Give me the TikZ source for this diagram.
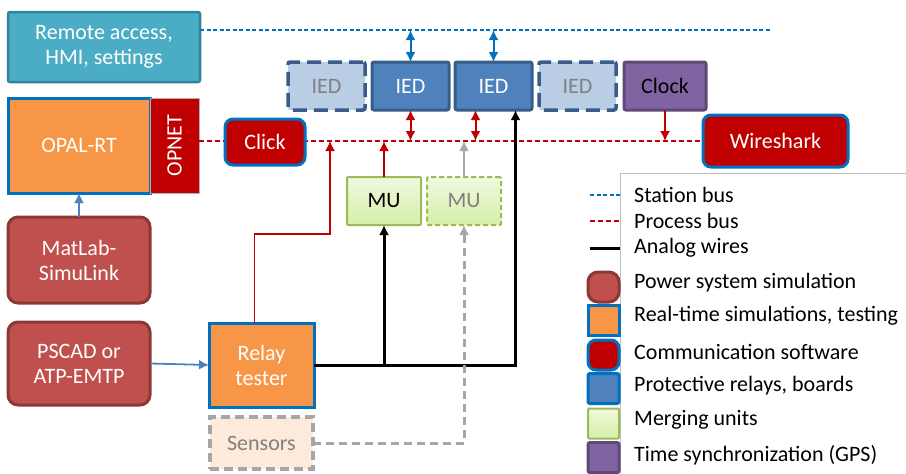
\documentclass[tikz,border=0pt]{standalone}
\usepackage{fontspec}
\setmainfont{Carlito}
\usetikzlibrary{positioning,arrows.meta}
\definecolor{simred}{HTML}{C0504D}
\definecolor{simdark}{HTML}{8C3836}
\definecolor{rtorange}{HTML}{F79646}
\definecolor{linkblue}{HTML}{0070C0}
\definecolor{commred}{HTML}{C00000}
\definecolor{relayblue}{HTML}{4F81BD}
\definecolor{relaydark}{HTML}{385D8A}
\definecolor{ghostblue}{HTML}{B9CDE5}
\definecolor{mutop}{HTML}{F0F9E0}
\definecolor{mubottom}{HTML}{D6EFA6}
\definecolor{muedge}{HTML}{9BBB59}
\definecolor{clockviolet}{HTML}{8064A2}
\definecolor{clockdark}{HTML}{5F497A}
\definecolor{remoteteal}{HTML}{4BACC6}
\definecolor{remotedark}{HTML}{31849B}
\definecolor{sensorfill}{HTML}{FDEADA}
\definecolor{sensoredge}{HTML}{A6A6A6}
\tikzset{
  module/.style={align=center, inner sep=0pt, outer sep=0pt, font=\fontsize{22}{25}\selectfont, text=white},
  remote box/.style={module, fill=remoteteal, draw=remotedark, line width=2.5pt, rounded corners=2pt},
  sim box/.style={module, fill=simred, draw=simdark, line width=3pt, rounded corners=10pt},
  rt box/.style={module, fill=rtorange, draw=linkblue, line width=3pt},
  comm box/.style={module, fill=commred, draw=linkblue, line width=3pt, rounded corners=8pt},
  opnet box/.style={module, fill=commred, draw=gray!60, line width=0.8pt},
  relay box/.style={module, fill=relayblue, draw=relaydark, line width=3pt, rounded corners=2pt},
  ghost relay/.style={relay box, fill=ghostblue, text=gray, line width=3.5pt, dash pattern=on 14pt off 7pt},
  mu box/.style={module, top color=mutop, bottom color=mubottom, draw=muedge, line width=2pt, rounded corners=1pt, text=black},
  ghost mu/.style={mu box, text=gray, dash pattern=on 5pt off 3pt},
  clock box/.style={module, fill=clockviolet, draw=clockdark, line width=3pt, rounded corners=2pt, text=black},
  sensor box/.style={module, fill=sensorfill, draw=sensoredge, line width=3.5pt, dash pattern=on 9pt off 5pt, text=gray},
  ied/.style={minimum width=77pt, minimum height=48pt},
  mu/.style={minimum width=74pt, minimum height=48pt},
  swatch/.style={minimum width=31pt, minimum height=30pt},
  legend text/.style={anchor=west, inner sep=0pt, font=\fontsize{22}{25}\selectfont},
  station bus/.style={draw=linkblue, line width=1.5pt, dash pattern=on 4pt off 2.5pt},
  process bus/.style={draw=commred, line width=1.5pt, dash pattern=on 5pt off 3pt},
  analog/.style={draw=black, line width=3pt},
  tip/.style={-{Latex[length=10pt,width=10pt]}},
  both tips/.style={{Latex[length=10pt,width=10pt]}-{Latex[length=10pt,width=10pt]}},
}

\begin{document}
\begin{tikzpicture}[x=1pt,y=-1pt]
\useasboundingbox (0,0) rectangle (906,474);
% the legend frame
\draw[gray!50, line width=1pt] (906,173) -| (620,474);
% the nodes
\node [remote box, minimum width=192pt, minimum height=70pt] (remote) at (104,47) {Remote access,\\HMI, settings};
\node [rt box, minimum width=142pt, minimum height=95pt] (opal) at (79,145.5) {OPAL-RT};
\node [opnet box, minimum width=49pt, minimum height=95pt, right=0pt of opal] (opnet) {\rotatebox{90}{OPNET}};
\node [sim box, minimum width=142pt, minimum height=86pt] (matlab) at (79,260) {MatLab-\\SimuLink};
\node [sim box, minimum width=142pt, minimum height=83pt] (pscad) at (79,363.5) {PSCAD or\\ATP-EMTP};
\node [rt box, minimum width=105pt, minimum height=84pt] (tester) at (261.5,365) {Relay\\tester};
\node [sensor box, minimum width=103pt, minimum height=52pt, below=10pt of tester] (sensors) {Sensors};
\node [ghost relay, ied] (iedA) at (326.5,86) {IED};
\node [relay box, ied, right=7pt of iedA] (iedB) {IED};
\node [relay box, ied, right=6pt of iedB] (iedC) {IED};
\node [ghost relay, ied, right=7pt of iedC] (iedD) {IED};
\node [clock box, minimum width=82pt, minimum height=48pt, right=8pt of iedD] (clock) {Clock};
\node [mu box, mu] (muA) at (384,201) {MU};
\node [ghost mu, mu, right=6pt of muA] (muB) {MU};
\coordinate (sbL) at (200,30);
\coordinate (sbR) at (770,30);
\coordinate (bend) at (330,234);
\node [comm box, minimum width=145pt, minimum height=52pt] (wireshark) at (775.5,141) {Wireshark};
%drawings of buses and links
\draw[station bus] (sbL) -- (sbR);
\draw[process bus] (opnet.east |- wireshark.west) -- (wireshark.west);
\node [comm box, minimum width=80pt, minimum height=46pt] (click) at (265,142) {Click};

\draw[both tips, linkblue, line width=2pt] (iedB.north) -- (iedB.north |- sbL);
\draw[both tips, linkblue, line width=2pt] (iedC.north) -- (iedC.north |- sbL);
\draw[both tips, commred, line width=2pt] (iedB.south) -- (iedB.south |- wireshark.west);
\draw[both tips, commred, line width=2pt] ([xshift=-18pt]iedC.south) -- ([xshift=-18pt]iedC.south |- wireshark.west);
\draw[tip, commred, line width=1.5pt] (clock.south) -- (clock.south |- wireshark.west);
\draw[tip, commred, line width=2pt] (muA.north) -- (muA.north |- wireshark.west);
\draw[tip, gray!70, line width=2pt] (muB.north) -- (muB.north |- wireshark.west);
\draw[tip, commred, line width=1.5pt] ([xshift=-7pt]tester.north) |- (bend) -- (bend |- wireshark.west);

\draw[tip, analog] (tester.east) -| ([xshift=22pt]iedC.south);
\draw[tip, analog] (muA.south |- tester.east) -- (muA.south);
\draw[tip, sensoredge, line width=3pt, dash pattern=on 8pt off 5pt] (sensors.east) -| (muB.south);

\draw[tip, relayblue, line width=1.8pt] (matlab.north) -- (opal.south);
\draw[tip, relayblue, line width=1.8pt] (pscad.east) -- (tester.west);

% the legend
\node [legend text] (lgsb) at (634,195) {Station bus};
\node [legend text] (lgpb) at (634,221) {Process bus};
\node [legend text] (lgaw) at (634,248) {Analog wires};
\draw[station bus] ([xshift=-44pt]lgsb.west) -- ([xshift=-14pt]lgsb.west);
\draw[process bus] ([xshift=-44pt]lgpb.west) -- ([xshift=-14pt]lgpb.west);
\draw[analog] ([xshift=-44pt]lgaw.west) -- ([xshift=-14pt]lgaw.west);
\node [sim box, swatch] (swsim) at (603.5,287) {};
\node [rt box, swatch] (swrt) at (603.5,320.5) {};
\node [comm box, swatch] (swcomm) at (603.5,355) {};
\node [relay box, swatch, draw=linkblue] (swrelay) at (603.5,388.5) {};
\node [mu box, swatch] (swmu) at (603.5,423.5) {};
\node [clock box, swatch] (swclock) at (603.5,457.5) {};
\node [legend text] (lgsim) at (634,283) {Power system simulation};
\node [legend text] (lgrt) at (634,316) {Real-time simulations, testing};
\node [legend text] (lgcomm) at (634,352) {Communication software};
\node [legend text] (lgrelay) at (634,386) {Protective relays, boards};
\node [legend text] (lgmu) at (634,420) {Merging units};
\node [legend text] (lgclock) at (634,455) {Time synchronization (GPS)};
\end{tikzpicture}
\end{document}
